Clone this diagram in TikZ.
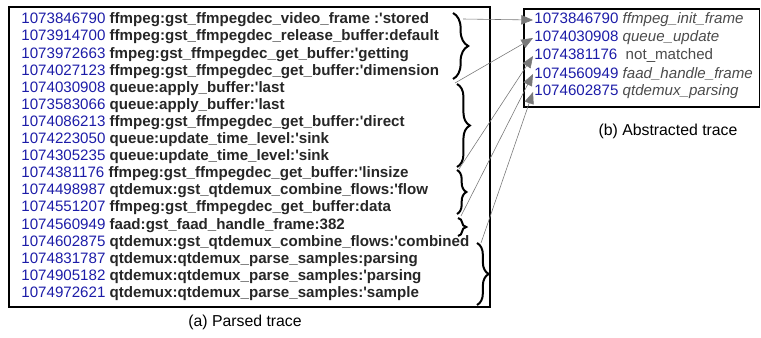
\documentclass[tikz,border=0pt]{standalone}
\usepackage{fontspec}
\setmainfont{Liberation Sans}
\usetikzlibrary{decorations.pathreplacing,arrows.meta}
\definecolor{numblue}{RGB}{28,28,168}
\definecolor{txtgray}{RGB}{38,38,38}
\definecolor{absgray}{RGB}{75,75,75}
\definecolor{linkgray}{RGB}{120,120,120}
\def\rowh{17.1}
\def\absh{18}
\def\q{\textquotesingle}

\begin{document}
\begin{tikzpicture}[x=0.03cm,y=-0.03cm,
		trace/.style={anchor=west,inner sep=1pt,font=\fontsize{12.9pt}{14pt}\selectfont},
		grp/.style={decorate,decoration={brace,amplitude=#1},line width=1.7pt},
		link/.style={linkgray,line width=0.5pt,-{Triangle[length=10pt,width=8pt]}}]
		% Keep the size of the reference.
		\useasboundingbox (0,0) rectangle (761,337);

		% Draw the two boxes.
		\draw[line width=0.9pt] (9,7) rectangle (490,307);
		\draw[line width=0.9pt] (524,9) rectangle (759.5,107);

		% Parsed trace, one node per line.
		\foreach \i/\num/\txt in {
			1/1073846790/{ffmpeg:gst\_ffmpegdec\_video\_frame :\q stored},
			2/1073914700/{ffmpeg:gst\_ffmpegdec\_release\_buffer:default},
			3/1073972663/{fmpeg:gst\_ffmpegdec\_get\_buffer:\q getting},
			4/1074027123/{ffmpeg:gst\_ffmpegdec\_get\_buffer:\q dimension},
			5/1074030908/{queue:apply\_buffer:\q last},
			6/1073583066/{queue:apply\_buffer:\q last},
			7/1074086213/{ffmpeg:gst\_ffmpegdec\_get\_buffer:\q direct},
			8/1074223050/{queue:update\_time\_level:\q sink},
			9/1074305235/{queue:update\_time\_level:\q sink},
			10/1074381176/{ffmpeg:gst\_ffmpegdec\_get\_buffer:\q linsize},
			11/1074498987/{qtdemux:gst\_qtdemux\_combine\_flows:\q flow},
			12/1074551207/{ffmpeg:gst\_ffmpegdec\_get\_buffer:data},
			13/1074560949/{faad:gst\_faad\_handle\_frame:382},
			14/1074602875/{qtdemux:gst\_qtdemux\_combine\_flows:\q combined},
			15/1074831787/{qtdemux:qtdemux\_parse\_samples:parsing},
			16/1074905182/{qtdemux:qtdemux\_parse\_samples:\q parsing},
			17/1074972621/{qtdemux:qtdemux\_parse\_samples:\q sample}}
			\node[trace] (l\i) at (20,{20+(\i-1)*\rowh}) {\textcolor{numblue}{\num} \textcolor{txtgray}{\bfseries\txt}};

		% Abstracted trace.
		\foreach \i/\num/\txt in {
			1/1073846790/{\itshape ffmpeg\_init\_frame},
			2/1074030908/{\itshape queue\_update},
			3/1074381176/{\ not\_matched},
			4/1074560949/{\itshape faad\_handle\_frame},
			5/1074602875/{\itshape qtdemux\_parsing}}
			\node[trace] (r\i) at (533,{20+(\i-1)*\absh}) {\textcolor{numblue}{\num} \textcolor{absgray}{\txt}};

		% Braces grouping the parsed lines.
		\draw[grp=13pt] (453,13) -- (453,79);
		\draw[grp=11pt] (457,84) -- (457,167);
		\draw[grp=8pt] (457,170) -- (457,214);
		\draw[grp=7pt] (458,218) -- (458,236);
		\draw[grp=10pt] (477,243) -- (477,305);

		% Where the links leave the braces.
		\coordinate (g1) at (463,19);
		\coordinate (g2) at (455,83);
		\coordinate (g3) at (459,169);
		\coordinate (g4) at (461,216);
		\coordinate (g5) at (481,243);

		% Link each group to its abstracted line.
		\foreach \i in {1,...,5}
			\draw[link] (g\i) -- (r\i.west);

		% Captions
		\node (capa) at (245,322) {\fontsize{13.5pt}{15pt}\selectfont (a) Parsed trace};
		\node (capb) at (668,131) {\fontsize{13.5pt}{15pt}\selectfont (b) Abstracted trace};
	\end{tikzpicture}
\end{document}
